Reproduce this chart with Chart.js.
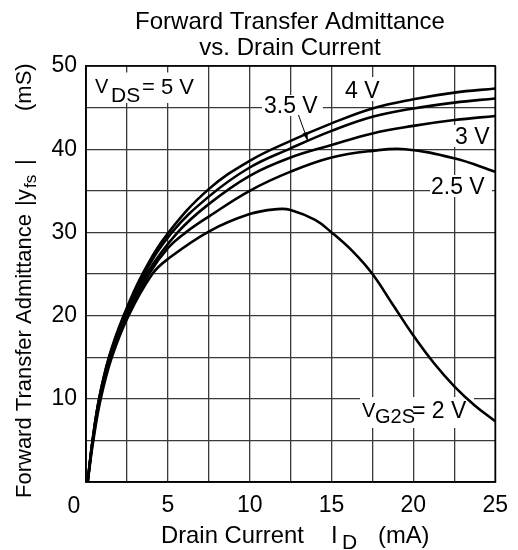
<!DOCTYPE html>
<html>
<head>
<meta charset="utf-8">
<script src="https://cdn.jsdelivr.net/npm/chart.js@4"></script>
<style>
  html, body { margin: 0; padding: 0; background: #fff; }
  canvas { display: block; }
</style>
</head>
<body>
<canvas id="c" width="518" height="550"></canvas>
<script>
// ---- Data (Drain current I_D in mA, |yfs| in mS) ----
const id_4V   = [0.1, 0.4, 0.8, 1.4, 2.3, 3.45, 5.05, 7.5, 10, 12.5, 15, 17.5, 20, 22.5, 25];
const yfs_4V  = [0, 5, 10, 15, 20, 25, 30, 35.2, 38.6, 41.0, 43.1, 44.9, 46.0, 46.8, 47.3];
const id_3V5  = [0.1, 0.4, 0.8, 1.42, 2.33, 3.55, 5.25, 7.5, 10, 12.5, 15, 17.5, 20, 22.5, 25];
const yfs_3V5 = [0, 5, 10, 15, 20, 25, 30, 34.3, 37.8, 40.1, 42.2, 43.9, 44.9, 45.6, 46.1];
const id_3V   = [0.1, 0.41, 0.82, 1.45, 2.4, 3.7, 5.6, 7.5, 10, 12.5, 15, 17.5, 20, 22.5, 25];
const yfs_3V  = [0, 5, 10, 15, 20, 25, 30, 33.4, 36.8, 39.0, 40.5, 41.9, 42.8, 43.5, 44.0];
const id_2V5  = [0.1, 0.42, 0.86, 1.5, 2.5, 3.85, 5, 6.1, 7.5, 10, 12.5, 15, 17.5, 19.5, 22.5, 25];
const yfs_2V5 = [0, 5, 10, 15, 20, 25, 28.1, 30, 31.9, 35.0, 37.3, 39.0, 39.8, 40.0, 38.9, 37.3];
const id_2V   = [0.1, 0.45, 0.9, 1.58, 2.6, 4.05, 5, 7.5, 10, 11.7, 12.5, 14, 15, 16.25, 17.5, 18.75, 20, 21.25, 22.5, 23.75, 25];
const yfs_2V  = [0, 5, 10, 15, 20, 25, 26.8, 30.1, 32.2, 32.8, 32.7, 31.5, 30.0, 27.8, 25.0, 21.3, 17.6, 14.3, 11.5, 9.2, 7.3];

const xTickLabels = [5, 10, 15, 20, 25];
const yTickLabels = [10, 20, 30, 40, 50];
const curveNames = ['4 V', '3.5 V', '3 V', '2.5 V', 'VG2S = 2 V'];

const FONT = '"Liberation Sans", Arial, Helvetica, sans-serif';

function pts(xs, ys) { return xs.map((x, i) => ({ x: x, y: ys[i] })); }

function mkSet(name, xs, ys) {
  return {
    label: name,
    data: pts(xs, ys),
    showLine: true,
    borderColor: '#000',
    borderWidth: 2.6,
    pointRadius: 0,
    fill: false,
    tension: 0.4
  };
}

function segs(ctx, list) {
  list.forEach(s => {
    ctx.font = s.size + 'px ' + FONT;
    ctx.fillText(s.t, s.x, s.y);
  });
}

const annot = {
  id: 'annot',
  beforeDatasetsDraw(chart) {
    const ctx = chart.ctx;
    ctx.save();
    ctx.fillStyle = '#fff';
    // white label boxes interrupting the grid
    ctx.fillRect(89, 72.5, 114, 30.5);   // VDS
    ctx.fillRect(343, 77, 43, 24);       // 4 V
    ctx.fillRect(262, 95, 61, 21);       // 3.5 V
    ctx.fillRect(452, 125, 42, 22);      // 3 V
    ctx.fillRect(430, 175, 62, 22);      // 2.5 V
    ctx.fillRect(360, 397, 114, 31);     // VG2S
    ctx.fillStyle = '#000';
    ctx.textAlign = 'left';
    ctx.textBaseline = 'alphabetic';
    segs(ctx, [
      { t: 'V', x: 95, y: 93, size: 20 },
      { t: 'DS', x: 111, y: 102, size: 21 },
      { t: '= 5 V', x: 142, y: 94, size: 22 },
      { t: curveNames[0], x: 345, y: 98, size: 23 },
      { t: curveNames[1], x: 264, y: 113, size: 23 },
      { t: curveNames[2], x: 455, y: 144, size: 23 },
      { t: curveNames[3], x: 431, y: 194, size: 23 },
      { t: 'V', x: 362, y: 417, size: 20 },
      { t: 'G2S', x: 375, y: 423, size: 20 },
      { t: '= 2 V', x: 412, y: 418, size: 23 }
    ]);
    ctx.restore();
  },
  afterDatasetsDraw(chart) {
    const ctx = chart.ctx;
    const a = chart.chartArea;
    ctx.save();
    // frame
    ctx.strokeStyle = '#000';
    ctx.lineWidth = 1.6;
    ctx.strokeRect(a.left, a.top, a.right - a.left, a.bottom - a.top);
    // arrow for 3.5 V
    ctx.lineWidth = 1;
    ctx.beginPath();
    ctx.moveTo(298.5, 115);
    ctx.lineTo(307.5, 140);
    ctx.stroke();
    ctx.beginPath();
    ctx.moveTo(307.8, 141);
    ctx.lineTo(302.6, 133.5);
    ctx.lineTo(307.6, 131.8);
    ctx.closePath();
    ctx.fill();
    ctx.restore();
  },
  afterDraw(chart) {
    const ctx = chart.ctx;
    ctx.save();
    ctx.fillStyle = '#000';
    ctx.textBaseline = 'alphabetic';
    // Title
    ctx.textAlign = 'center';
    ctx.font = '24px ' + FONT;
    ctx.fillText('Forward Transfer Admittance', 290, 29);
    ctx.fillText('vs. Drain Current', 290, 55);
    // x "0" corner label
    ctx.font = '23px ' + FONT;
    ctx.fillText('0', 74, 513);
    // x axis title
    ctx.textAlign = 'left';
    segs(ctx, [
      { t: 'Drain Current', x: 161, y: 543, size: 23.8 },
      { t: 'I', x: 331, y: 543, size: 23.8 },
      { t: 'D', x: 342, y: 549, size: 21 },
      { t: '(mA)', x: 378, y: 543, size: 23.8 }
    ]);
    // y axis title (rotated)
    ctx.translate(31, 0);
    ctx.rotate(-Math.PI / 2);
    const ys = [
      { t: 'Forward Transfer Admittance', p: 498, dy: 0, size: 22 },
      { t: '|y', p: 206, dy: 0, size: 22 },
      { t: 'fs', p: 188, dy: 5, size: 17 },
      { t: '|', p: 165, dy: 0, size: 22 },
      { t: '(mS)', p: 111, dy: 0, size: 22 }
    ];
    ys.forEach(s => {
      ctx.font = s.size + 'px ' + FONT;
      ctx.fillText(s.t, -s.p, s.dy);
    });
    ctx.restore();
  }
};

new Chart(document.getElementById('c'), {
  type: 'scatter',
  data: {
    datasets: [
      mkSet(curveNames[0], id_4V, yfs_4V),
      mkSet(curveNames[1], id_3V5, yfs_3V5),
      mkSet(curveNames[2], id_3V, yfs_3V),
      mkSet(curveNames[3], id_2V5, yfs_2V5),
      mkSet(curveNames[4], id_2V, yfs_2V)
    ]
  },
  options: {
    responsive: false,
    animation: false,
    devicePixelRatio: 1,
    layout: { padding: { top: 66, right: 17, left: 0, bottom: 0 } },
    plugins: { legend: { display: false }, title: { display: false }, tooltip: { enabled: false } },
    scales: {
      x: {
        type: 'linear',
        min: 0, max: 25,
        afterFit: s => { s.height = 68; },
        ticks: {
          stepSize: 2.5,
          autoSkip: false,
          maxRotation: 0,
          color: '#000',
          padding: 10,
          font: { family: FONT, size: 23 },
          callback: v => (xTickLabels.includes(v) ? String(v) : '')
        },
        grid: { color: '#3a3a3a', lineWidth: 1.3, drawTicks: false },
        border: { color: '#000', width: 1.6 }
      },
      y: {
        type: 'linear',
        min: 0, max: 50,
        afterFit: s => { s.width = 86; },
        ticks: {
          stepSize: 5,
          autoSkip: false,
          color: '#000',
          padding: 9,
          font: { family: FONT, size: 23 },
          callback: v => (yTickLabels.includes(v) ? String(v) : '')
        },
        grid: { color: '#3a3a3a', lineWidth: 1.3, drawTicks: false },
        border: { color: '#000', width: 1.6 }
      }
    }
  },
  plugins: [annot]
});
</script>
</body>
</html>
